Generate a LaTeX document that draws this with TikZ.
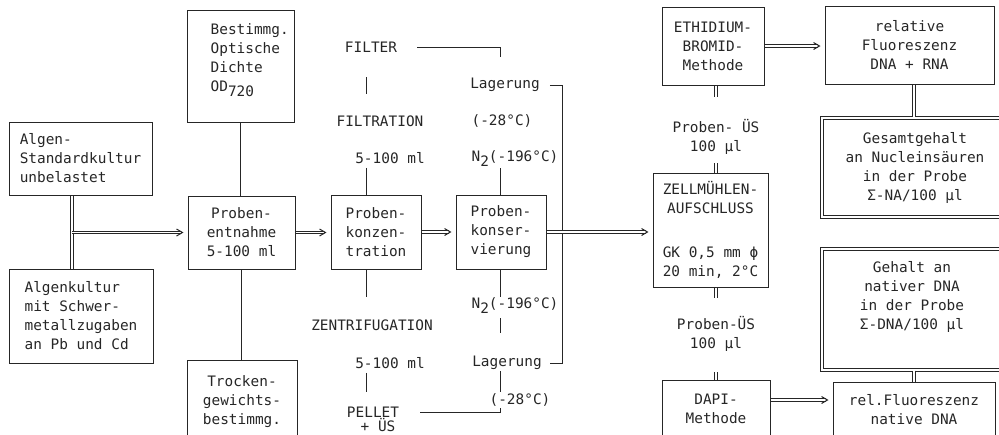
\documentclass[tikz,border=0pt]{standalone}
\usepackage{fontspec}
\newfontfamily\schreib{DejaVu Sans Mono}
\usetikzlibrary{positioning}

% tiefgestellte Ziffern wie auf der Schreibmaschine
\newcommand{\tief}[1]{\raisebox{-5pt}{#1}}
% Doppelpfeil mit offener Spitze
\newcommand{\darrow}[2]{%
  \draw[dbl, shorten >=6.5pt] (#1) -- (#2);
  \draw[chev] (#2) ++(-11pt,3.5pt) -- ++(6pt,-3.5pt) -- ++(-6pt,-3.5pt);}

\begin{document}
\begin{tikzpicture}[x=1pt, y=-1pt, color=black!85,
    font=\schreib\fontsize{14.4}{19}\selectfont,
    box/.style={draw, rectangle, line width=1pt, inner sep=0pt, align=center},
    boldbox/.style={box, double, double distance=1.3pt, line width=1.2pt},
    txt/.style={inner sep=1pt, align=center},
    line/.style={draw, line width=1pt},
    dbl/.style={draw, double, double distance=1.4pt, line width=1.1pt},
    chev/.style={draw, line width=1pt}]

    \useasboundingbox (0,0) rectangle (999,434);

    % Hilfskoordinaten fuer senkrechte Linien
    \coordinate (ax) at (72,0);
    \coordinate (kx) at (366,0);
    \coordinate (sx) at (500,0);
    \coordinate (rx) at (562,0);
    \coordinate (dx) at (914,0);
    \coordinate (dy) at (0,400);

    % Kulturen
    \node [box, minimum width=143, minimum height=73, align=left] (algstd) at (80.5,158.5) {Algen-\\Standardkultur\\unbelastet};
    \node [box, minimum width=144, minimum height=94, align=left] (algpb) at (81,316) {Algenkultur\\mit Schwer-\\metallzugaben\\an Pb und Cd};

    % Probennahme
    \node [box, minimum width=107, minimum height=112,
        label={[txt, align=left, anchor=west, xshift=23pt, yshift=6pt]west:{Bestimmg.\\Optische\\Dichte\\OD\tief{720}}}] (od) at (240.5,66) {};
    \node [box, minimum width=107, minimum height=73] (entn) at (241.5,232.5) {Proben-\\entnahme\\5-100 ml};
    \node [box, minimum width=110, minimum height=84] (trock) at (242,402) {Trocken-\\gewichts-\\bestimmg.};

    % Konzentration und Konservierung
    \node [box, minimum width=90, minimum height=74] (konz) at (376,232) {Proben-\\konzen-\\tration};
    \node [box, minimum width=90, minimum height=74] (kons) at (501,232) {Proben-\\konser-\\vierung};

    % Beschriftungen oben
    \node [txt] (filter) at (371,47) {FILTER};
    \node [txt] (filtr) at (380,121) {FILTRATION};
    \node [txt] (ml1) at (390,158) {5-100 ml};
    \node [txt] (lag1) at (505,85) {Lagerung};
    \node [txt] (tmp1) at (502,121) {(-28°C)};
    \node [txt] (stick1) at (515,159) {N\tief{2}(-196°C)};

    % Beschriftungen unten
    \node [txt] (zentr) at (372,325) {ZENTRIFUGATION};
    \node [txt] (ml2) at (390,363) {5-100 ml};
    \node [txt] (pellet) at (373,412) {PELLET};
    \node [txt, inner sep=0pt] (ues) at (378,425) {+ ÜS};
    \node [txt] (stick2) at (515,306) {N\tief{2}(-196°C)};
    \node [txt] (lag2) at (507,363) {Lagerung};
    \node [txt] (tmp2) at (520,400) {(-28°C)};

    % Aufschluss und Methoden
    \node [box, minimum width=102, minimum height=78] (ethid) at (713,46) {ETHIDIUM-\\BROMID-\\Methode};
    \node [txt] (ues1) at (716,137) {Proben- ÜS\\100 µl};
    \node [box, minimum width=115, minimum height=114] (zell) at (710.5,230) {ZELLMÜHLEN-\\AUFSCHLUSS\\[25pt]GK 0,5 mm ϕ\\20 min, 2°C};
    \node [txt] (ues2) at (716,334) {Proben-ÜS\\100 µl};
    \node [box, minimum width=108, minimum height=58] (dapi) at (716,409) {DAPI-\\Methode};

    % Ergebnisse
    \node [box, minimum width=169, minimum height=78] (relfl) at (909.5,45) {relative\\Fluoreszenz\\DNA + RNA};
    \node [boldbox, minimum width=186, minimum height=99] (gesamt) at (915,167.5) {Gesamtgehalt\\an Nucleinsäuren\\in der Probe\\Σ-NA/100 µl};
    \node [boldbox, minimum width=186, minimum height=121,
        label={[txt, anchor=center, yshift=13pt, xshift=-3pt]center:{Gehalt an\\nativer DNA\\in der Probe\\Σ-DNA/100 µl}}] (gehalt) at (915,309.5) {};
    \node [box, minimum width=162, minimum height=56] (relnat) at (914,410) {rel.Fluoreszenz\\native DNA};

    % Einfache Linien
    \draw [line] (od.south) -- (od.south |- entn.north);
    \draw [line] (entn.south) -- (entn.south |- trock.north);
    \draw [line, shorten <=24pt, shorten >=20pt] (filter.south -| kx) -- (filtr.north -| kx);
    \draw [line, shorten <=3pt] (ml1.south -| kx) -- (konz.north -| kx);
    \draw [line, shorten >=21pt] (konz.south -| kx) -- (zentr.north -| kx);
    \draw [line, shorten <=3pt, shorten >=14pt] (ml2.south -| kx) -- (pellet.north -| kx);

    % Lagerung
    \draw [line, shorten <=19pt] (filter.east) -| ([yshift=20pt]lag1.north -| sx);
    \draw [line] ([xshift=9pt]lag1.east) -| (rx |- lag2.east) -- ([xshift=7pt]lag2.east);
    \draw [line] (stick1.south -| sx) -- (kons.north -| sx);
    \draw [line] (kons.south -| sx) -- (stick2.north -| sx);
    \draw [line, shorten <=3pt, shorten >=22pt] (stick2.south -| sx) -- (lag2.north -| sx);
    \draw [line] (lag2.south -| sx) -- (tmp2.north -| sx);
    \draw [line, shorten <=20pt] (pellet.east) -| (tmp2.south -| sx);

    % Doppellinien
    \draw [dbl] (algstd.south -| ax) -- (algpb.north -| ax);
    \draw [dbl, shorten >=21.5pt] (ethid.south -| ues1) -- (ues1.north);
    \draw [dbl, shorten <=7.5pt] (ues1.south) -- (zell.north -| ues1);
    \draw [dbl, shorten >=17.5pt] (zell.south -| ues2) -- (ues2.north);
    \draw [dbl, shorten <=19.5pt] (ues2.south) -- (dapi.north);
    \draw [dbl] (relfl.south -| dx) -- (gesamt.north -| dx);
    \draw [dbl] (gehalt.south -| dx) -- (relnat.north -| dx);

    % Doppelpfeile
    \darrow{ax |- entn.west}{entn.west}
    \darrow{entn.east}{konz.west |- entn.east}
    \darrow{konz.east}{kons.west}
    \darrow{kons.east}{zell.west |- kons.east}
    \darrow{ethid.east}{relfl.west |- ethid.east}
    \darrow{dapi.east |- dy}{relnat.west |- dy}

\end{tikzpicture}
\end{document}
